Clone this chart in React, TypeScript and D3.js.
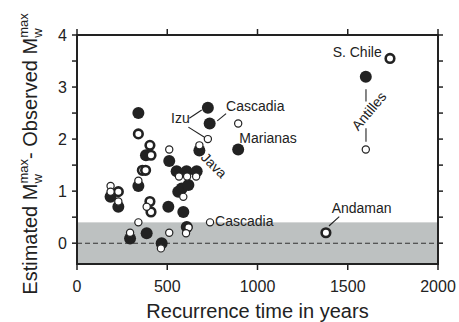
import { scaleLinear, range } from "d3";

// [recurrence time (yr), Mw difference]
const filledPts: [number, number][] = [
  [340, 2.5], [725, 2.6], [735, 2.3], [893, 1.8], [1600, 3.2], [678, 1.78],
  [382, 1.69], [511, 1.58], [340, 1.1], [552, 1.38], [607, 1.38], [663, 1.38],
  [580, 1.05], [617, 1.12], [561, 0.99], [506, 0.7], [589, 0.6], [608, 0.31],
  [386, 0.19], [294, 0.09], [469, 0.0], [186, 0.89], [229, 0.7],
];
const boldOpenPts: [number, number][] = [
  [340, 2.1], [404, 1.88], [410, 1.69], [362, 1.4], [380, 1.4], [404, 0.8],
  [410, 0.6], [1734, 3.55], [1379, 0.2], [229, 0.99],
];
const smallOpenPts: [number, number][] = [
  [893, 2.3], [725, 2.0], [511, 1.8], [678, 1.88], [340, 1.2], [565, 1.28],
  [610, 1.28], [660, 1.28], [589, 0.89], [737, 0.4], [618, 0.3], [604, 0.19],
  [511, 0.2], [340, 0.4], [294, 0.2], [465, -0.1], [186, 1.1], [186, 0.99],
  [229, 0.8], [386, 0.7], [1600, 1.8],
];

const xTicks = [0, 500, 1000, 1500, 2000];
const yTickLabels = [0, 1, 2, 3, 4];

// labels: text, x, y, anchor, rotation
const labels: [string, number, number, string, number][] = [
  ["Izu", 521, 2.3, "start", 0],
  ["Cascadia", 826, 2.54, "start", 0],
  ["Marianas", 899, 1.93, "start", 0],
  ["Java", 759, 1.5, "middle", 45],
  ["Cascadia", 765, 0.33, "start", 0],
  ["S. Chile", 1688, 3.58, "end", 0],
  ["Antilles", 1617, 2.54, "middle", -50],
  ["Andaman", 1411, 0.58, "start", 0],
];
const leaders: [number, number, number, number][] = [
  [622, 2.4, 691, 2.56],
  [617, 2.23, 704, 2.04],
  [826, 2.49, 777, 2.35],
  [1601, 2.96, 1601, 2.72],
  [1601, 2.21, 1601, 1.95],
  [1396, 0.33, 1453, 0.51],
];

const band = [-0.4, 0.4];

export default function App() {
  const width = 459;
  const height = 322;
  const left = 77, right = 438, top = 35, bottom = 264;
  const x = scaleLinear([0, 2000], [left, right]);
  const y = scaleLinear([-0.4, 4], [bottom, top]);
  const ink = "#222";
  const font = "'Liberation Sans', Arial, sans-serif";

  return (
    <svg width={width} height={height} style={{ position: "absolute", left: 0, top: 0 }} fontFamily={font}>
      <rect x={left} y={y(band[1])} width={right - left} height={y(band[0]) - y(band[1])} fill="#bdc1c1" />
      <line x1={left} x2={right} y1={y(0)} y2={y(0)} stroke="#333" strokeWidth={1.1} strokeDasharray="5,3" />

      {leaders.map((l, i) => (
        <line key={i} x1={x(l[0])} y1={y(l[1])} x2={x(l[2])} y2={y(l[3])} stroke={ink} strokeWidth={1.1} />
      ))}

      <g fill={ink}>
        {filledPts.map((d, i) => (
          <circle key={i} cx={x(d[0])} cy={y(d[1])} r={6} />
        ))}
      </g>
      <g fill="white" stroke={ink} strokeWidth={2.6}>
        {boldOpenPts.map((d, i) => (
          <circle key={i} cx={x(d[0])} cy={y(d[1])} r={4.3} />
        ))}
      </g>
      <g fill="white" stroke={ink} strokeWidth={1.2}>
        {smallOpenPts.map((d, i) => (
          <circle key={i} cx={x(d[0])} cy={y(d[1])} r={3.6} />
        ))}
      </g>

      <g fontSize={14} fill={ink}>
        {labels.map((l, i) => (
          <text
            key={i}
            x={x(l[1])}
            y={y(l[2])}
            textAnchor={l[3]}
            dominantBaseline={l[4] !== 0 ? "central" : undefined}
            transform={l[4] !== 0 ? `rotate(${l[4]} ${x(l[1])} ${y(l[2])})` : undefined}
          >
            {l[0]}
          </text>
        ))}
      </g>

      <rect x={left} y={top} width={right - left} height={bottom - top} fill="none" stroke={ink} strokeWidth={2} />

      <g stroke={ink} strokeWidth={1.5}>
        {xTicks.map((t) => (
          <g key={t}>
            <line x1={x(t)} x2={x(t)} y1={bottom} y2={bottom + 6} />
            <line x1={x(t)} x2={x(t)} y1={top} y2={top - 6} />
          </g>
        ))}
        {range(0, 4.01, 0.5).map((t) => (
          <g key={t}>
            <line x1={left} x2={left - 5} y1={y(t)} y2={y(t)} />
            <line x1={right} x2={right + 5} y1={y(t)} y2={y(t)} />
          </g>
        ))}
      </g>

      <g fontSize={16} fill={ink}>
        {xTicks.map((t) => (
          <text key={t} x={x(t)} y={292} textAnchor="middle">{t}</text>
        ))}
        {yTickLabels.map((t) => (
          <text key={t} x={left - 10} y={y(t)} textAnchor="end" dominantBaseline="central">{t}</text>
        ))}
      </g>

      <text x={(left + right) / 2} y={318} textAnchor="middle" fontSize={20} fill={ink}>
        Recurrence time in years
      </text>
      <text transform={`translate(37,${154}) rotate(-90)`} textAnchor="middle" fontSize={20} fill={ink}>
        Estimated M
        <tspan fontSize={13} dy={5}>w</tspan>
        <tspan fontSize={13} dx={-9.4} dy={-14}>max</tspan>
        <tspan dy={9}>- Observed M</tspan>
        <tspan fontSize={13} dy={5}>w</tspan>
        <tspan fontSize={13} dx={-9.4} dy={-14}>max</tspan>
      </text>
    </svg>
  );
}
